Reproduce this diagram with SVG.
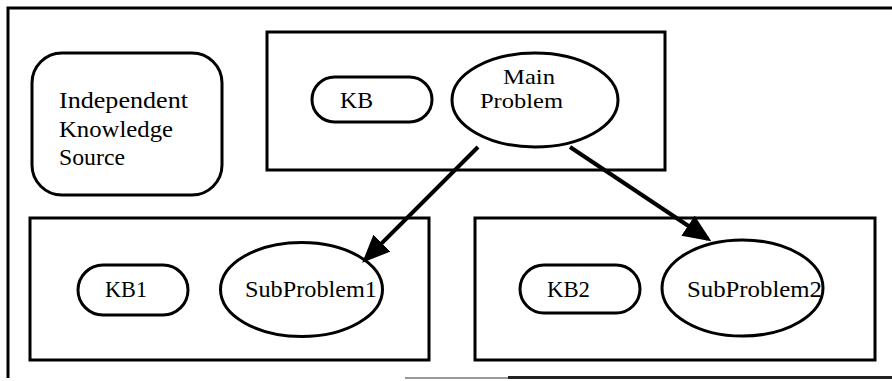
<svg xmlns="http://www.w3.org/2000/svg" width="892" height="381" viewBox="0 0 892 381">
  <style>
    .frame { fill: none; stroke: #000; stroke-width: 3; }
    .box { fill: none; stroke: #000; stroke-width: 3; }
    .shape { fill: #fff; stroke: #000; stroke-width: 3; }
    .label { font-family: "Liberation Serif", "DejaVu Serif", serif; font-size: 24px; fill: #000; }
    .tight { font-size: 22px; }
    .edge { stroke: #000; stroke-width: 4; fill: none; }
  </style>
  <defs>
    <marker id="head" markerWidth="7" markerHeight="6" refX="6" refY="3" orient="auto" markerUnits="strokeWidth">
      <path d="M0,0 L7,3 L0,6 Z" fill="#000"/>
    </marker>
  </defs>

  <rect width="892" height="381" fill="#fff"/>

  <!-- outer frame: open on the right, bottom rule only on the right half -->
  <g id="frame">
    <path class="frame" d="M8,378 L8,8 L892,8"/>
    <path d="M405,378 L510,378" stroke="#999" stroke-width="2"/>
    <path d="M508,377.5 L892,377.5" stroke="#222" stroke-width="3"/>
  </g>

  <g id="independent-ks">
    <rect class="shape" x="32" y="53" width="190" height="142" rx="30" ry="30"/>
    <text class="label" x="59" y="108" textLength="129" lengthAdjust="spacingAndGlyphs">Independent</text>
    <text class="label" x="59" y="137" textLength="114" lengthAdjust="spacingAndGlyphs">Knowledge</text>
    <text class="label" x="59" y="165" textLength="66" lengthAdjust="spacingAndGlyphs">Source</text>
  </g>

  <g id="main-blackboard">
    <rect class="box" x="267" y="32" width="398" height="138"/>
    <g id="kb">
      <rect class="shape" x="312" y="77" width="120" height="45" rx="22.5" ry="22.5"/>
      <text class="label" x="340" y="108" textLength="33" lengthAdjust="spacingAndGlyphs">KB</text>
    </g>
    <g id="main-problem">
      <ellipse class="shape" cx="535" cy="100" rx="83" ry="47"/>
      <text class="label tight" x="503" y="84" textLength="52" lengthAdjust="spacingAndGlyphs">Main</text>
      <text class="label tight" x="480" y="108" textLength="83" lengthAdjust="spacingAndGlyphs">Problem</text>
    </g>
  </g>

  <g id="sub-blackboard-1">
    <rect class="box" x="30" y="218" width="399" height="142"/>
    <g id="kb1">
      <rect class="shape" x="78" y="265" width="110" height="50" rx="25" ry="25"/>
      <text class="label" x="105" y="297" textLength="42" lengthAdjust="spacingAndGlyphs">KB1</text>
    </g>
    <g id="subproblem1">
      <ellipse class="shape" cx="301.5" cy="289.5" rx="81" ry="47"/>
      <text class="label" x="245" y="297" textLength="132" lengthAdjust="spacingAndGlyphs">SubProblem1</text>
    </g>
  </g>

  <g id="sub-blackboard-2">
    <rect class="box" x="475" y="218" width="400" height="142"/>
    <g id="kb2">
      <rect class="shape" x="520" y="265" width="120" height="48" rx="24" ry="24"/>
      <text class="label" x="547" y="297" textLength="43" lengthAdjust="spacingAndGlyphs">KB2</text>
    </g>
    <g id="subproblem2">
      <ellipse class="shape" cx="742.5" cy="288" rx="80.5" ry="48"/>
      <text class="label" x="687" y="297" textLength="135" lengthAdjust="spacingAndGlyphs">SubProblem2</text>
    </g>
  </g>

  <g id="connectors">
    <line class="edge" x1="478" y1="147" x2="365" y2="260" marker-end="url(#head)"/>
    <line class="edge" x1="570" y1="147" x2="708" y2="239" marker-end="url(#head)"/>
  </g>
</svg>
